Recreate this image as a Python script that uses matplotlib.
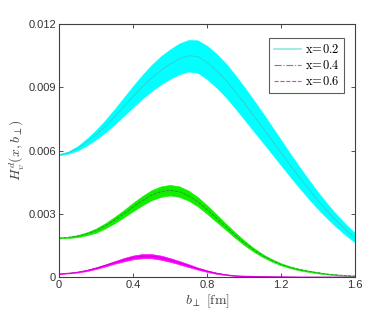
import numpy as np
import matplotlib
matplotlib.use("Agg")
import matplotlib.pyplot as plt

plt.rcParams['font.family'] = ['Liberation Sans', 'DejaVu Sans']
plt.rcParams['mathtext.fontset'] = 'cm'

# impact parameter b_perp [fm], step 0.05
b = [0.0, 0.05, 0.1, 0.15, 0.2, 0.25, 0.3, 0.35, 0.4, 0.45, 0.5, 0.55, 0.6, 0.65, 0.7, 0.75,
     0.8, 0.85, 0.9, 0.95, 1.0, 1.05, 1.1, 1.15, 1.2, 1.25, 1.3, 1.35, 1.4, 1.45, 1.5, 1.55, 1.6]

# x=0.2 : central value and band half width
h02 = [0.0058, 0.0059, 0.0061, 0.0064, 0.00675, 0.00715, 0.0076, 0.00808, 0.00856, 0.00902,
       0.00944, 0.0098, 0.0101, 0.01035, 0.0105, 0.01046, 0.01018, 0.0098, 0.00935, 0.00882,
       0.00826, 0.00768, 0.0071, 0.0065, 0.0059, 0.0053, 0.00472, 0.00416, 0.00362, 0.00312,
       0.00266, 0.00224, 0.00186]
e02 = [0.00002, 0.00005, 0.0001, 0.00016, 0.00022, 0.00029, 0.00036, 0.00043, 0.0005, 0.00056,
       0.00062, 0.00067, 0.0007, 0.00073, 0.00075, 0.00077, 0.00079, 0.0008, 0.0008, 0.00079,
       0.00077, 0.00074, 0.0007, 0.00065, 0.0006, 0.00055, 0.0005, 0.00045, 0.0004, 0.00035,
       0.0003, 0.00026, 0.00022]

# x=0.4
h04 = [0.00185, 0.00188, 0.00194, 0.00205, 0.0022, 0.00243, 0.0027, 0.003, 0.00332, 0.00362,
       0.00388, 0.00405, 0.00412, 0.00405, 0.00386, 0.00357, 0.0032, 0.0028, 0.0024, 0.002,
       0.00163, 0.0013, 0.00102, 0.00079, 0.0006, 0.00046, 0.00035, 0.00027, 0.0002, 0.00014,
       0.0001, 0.00007, 0.00005]
e04 = [0.00002, 0.00003, 0.00005, 0.00007, 0.0001, 0.00012, 0.00015, 0.00017, 0.0002, 0.00022,
       0.00024, 0.00025, 0.00025, 0.00025, 0.00024, 0.00022, 0.0002, 0.00018, 0.00015, 0.00013,
       0.00011, 0.00009, 0.00007, 0.00006, 0.00005, 0.00004, 0.00004, 0.00003, 0.00003, 0.00002,
       0.00002, 0.00001, 0.00001]

# x=0.6
h06 = [0.00015, 0.00018, 0.00023, 0.00031, 0.00042, 0.00055, 0.00069, 0.00082, 0.00093, 0.00099,
       0.00099, 0.00092, 0.00081, 0.00068, 0.00054, 0.0004, 0.00028, 0.00018, 0.00011, 0.00006,
       0.00004, 0.00003, 0.00002, 0.000015, 0.00001, 0.000005, 0.0, 0.0, 0.0, 0.0,
       0.0, 0.0, 0.0]
e06 = [0.00001, 0.00001, 0.00002, 0.00003, 0.00004, 0.00005, 0.00006, 0.00008, 0.00009, 0.0001,
       0.0001, 0.0001, 0.00009, 0.00008, 0.00007, 0.00005, 0.00004, 0.00003, 0.00002, 0.00001,
       0.00001, 0.00001, 0.00001, 0.00001, 0.00001, 0.00001, 0.00001, 0.00001, 0.00001, 0.00001,
       0.00001, 0.00001, 0.00001]

labels = ['x=0.2', 'x=0.4', 'x=0.6']

fig = plt.figure(figsize=(3.82, 3.13), dpi=100)
ax = fig.add_axes([0.1545, 0.115, 0.775, 0.808])

series = [
    (h02, e02, '#00ffff', '#40c8c8', '-'),
    (h04, e04, '#11ee00', '#2f8f2f', '--'),
    (h06, e06, '#ff00ff', '#cc00cc', '-'),
]
bb = np.array(b)
for (h, e, fill, line, ls) in series:
    h = np.array(h)
    e = np.array(e)
    ax.fill_between(bb, h - e, h + e, color=fill, lw=0.4, edgecolor=fill)
    ax.plot(bb, h, color=line, lw=0.6, ls=ls)

# legend proxies, labels set in computer modern roman
tex = [r'$\mathrm{' + s.replace('=', '\\!=\\!') + '}$' for s in labels]
ax.plot([], [], color='#8ee6e6', lw=1.2, ls='-', label=tex[0])
ax.plot([], [], color='#5aa05a', lw=0.8, ls='-.', label=tex[1])
ax.plot([], [], color='#d040d0', lw=0.8, ls='--', label=tex[2])
leg = ax.legend(loc='upper right', frameon=True, fancybox=False, fontsize=9,
                edgecolor='0.2', handlelength=2.2, handletextpad=0.3,
                borderpad=0.4, labelspacing=0.25, bbox_to_anchor=(0.985, 0.97))
leg.get_frame().set_linewidth(0.8)

ax.set_xlim(0, 1.6)
ax.set_ylim(0, 0.012)
ax.set_xticks([0, 0.4, 0.8, 1.2, 1.6])
ax.set_xticklabels(['0', '0.4', '0.8', '1.2', '1.6'])
ax.set_yticks([0, 0.003, 0.006, 0.009, 0.012])
ax.set_yticklabels(['0', '0.003', '0.006', '0.009', '0.012'])
ax.tick_params(direction='in', top=True, right=True, labelsize=8, length=3,
               width=0.6, pad=2, colors='0.2')
for s in ax.spines.values():
    s.set_linewidth(0.8)
    s.set_color('0.25')

ax.set_xlabel(r'$b_\perp\ \mathrm{[fm]}$', fontsize=10, color='0.25', labelpad=2)
ax.set_ylabel(r'$H_v^d(x,b_\perp)$', fontsize=10, color='0.25', labelpad=2)

fig.savefig('out.png', dpi=100)
